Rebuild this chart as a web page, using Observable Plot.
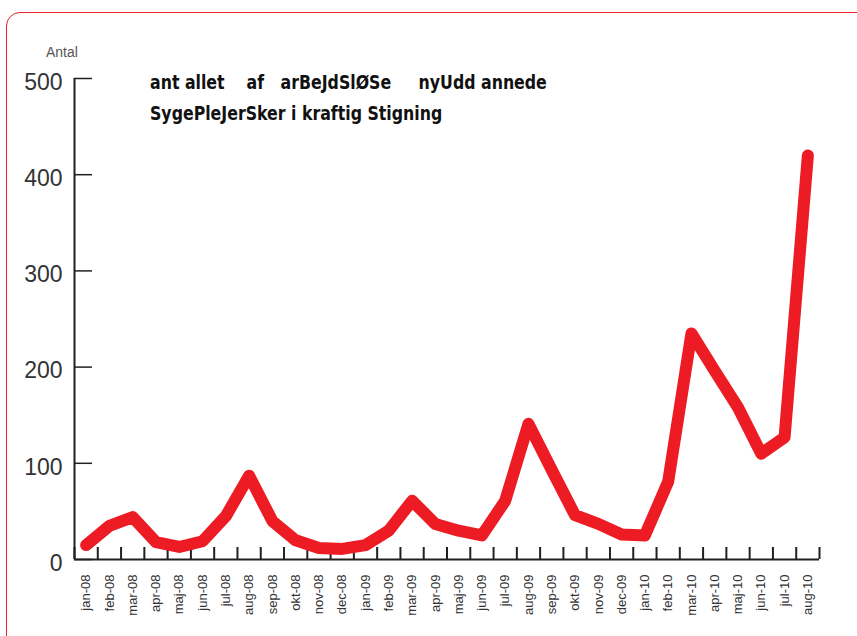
<!DOCTYPE html>
<html>
<head>
<meta charset="utf-8">
<script src="https://cdn.jsdelivr.net/npm/d3@7"></script>
<script src="https://cdn.jsdelivr.net/npm/@observablehq/plot@0.6"></script>
<style>
  html, body { margin: 0; padding: 0; background: #fff; width: 857px; height: 636px; overflow: hidden; }
  #frame { position: absolute; left: 6px; top: 12px; width: 900px; height: 700px;
           border: 1.5px solid #e8232b; border-radius: 14px; box-sizing: border-box; }
  #chart { position: absolute; left: 0; top: 0; }
  #ylabel { position: absolute; left: 46px; top: 45px; font: 14px/14px "Liberation Sans", Arial, sans-serif; color: #555; }
  #title { position: absolute; left: 150px; top: 67px; white-space: pre;
           font-family: "Liberation Sans Narrow", "Arial Narrow", "DejaVu Sans Condensed", "DejaVu Sans", sans-serif;
           font-weight: bold; font-size: 20px; line-height: 31px; color: #111;
           transform: scaleX(0.877); transform-origin: 0 0; }
</style>
</head>
<body>
<div id="frame"></div>
<div id="chart"></div>
<div id="ylabel">Antal</div>
<div id="title">ant allet    af   arBeJdSlØSe     nyUdd annede
SygePleJerSker i kraftig Stigning</div>
<script>
const months = ["jan-08","feb-08","mar-08","apr-08","maj-08","jun-08","jul-08","aug-08","sep-08","okt-08","nov-08","dec-08",
                "jan-09","feb-09","mar-09","apr-09","maj-09","jun-09","jul-09","aug-09","sep-09","okt-09","nov-09","dec-09",
                "jan-10","feb-10","mar-10","apr-10","maj-10","jun-10","jul-10","aug-10"];
const values = [15,35,44,18,13,19,45,87,40,20,12,11,
                15,30,61,37,30,25,61,141,93,46,37,26,
                25,81,235,196,158,110,127,420];
const yTicks = [0,100,200,300,400,500];

const rows = months.map((m, i) => ({month: m, pos: i + 0.5, value: values[i]}));
const boundaries = d3.range(months.length + 1);
const centers = months.map((m, i) => i + 0.5);
const yMax = d3.max(yTicks);

const chart = Plot.plot({
  width: 857,
  height: 636,
  marginLeft: 74,
  marginRight: 38,
  marginTop: 78,
  marginBottom: 77,
  x: {type: "linear", domain: [0, months.length], axis: null, label: null},
  y: {domain: [0, yMax], axis: null, label: null},
  style: {background: "transparent", color: "#231f20", overflow: "visible"},
  marks: [
    Plot.axisX(boundaries, {tickSize: -12, tickFormat: () => "", strokeWidth: 2, label: null}),
    Plot.axisX(centers, {tickSize: 0, tickPadding: 15, tickRotate: -90, label: null,
      tickFormat: d => months[Math.floor(d)], fontSize: 13,
      fontFamily: "Liberation Sans, Arial, sans-serif", fill: "#333"}),
    Plot.axisY(yTicks, {tickSize: -18, tickFormat: () => "", strokeWidth: 1.5, label: null}),
    Plot.axisY(yTicks, {tickSize: 0, tickPadding: 12, fontSize: 23, dy: 4, label: null,
      fontFamily: "Liberation Sans, Arial, sans-serif", fill: "#333", fontWeight: 300}),
    Plot.ruleX([0], {y1: 0, y2: yMax, strokeWidth: 2}),
    Plot.ruleY([0], {x1: 0, x2: months.length, strokeWidth: 2}),
    Plot.line(rows, {x: "pos", y: "value", stroke: "#ed1c24", strokeWidth: 12,
      strokeLinejoin: "round", strokeLinecap: "round"})
  ]
});
document.getElementById("chart").appendChild(chart);
</script>
</body>
</html>
